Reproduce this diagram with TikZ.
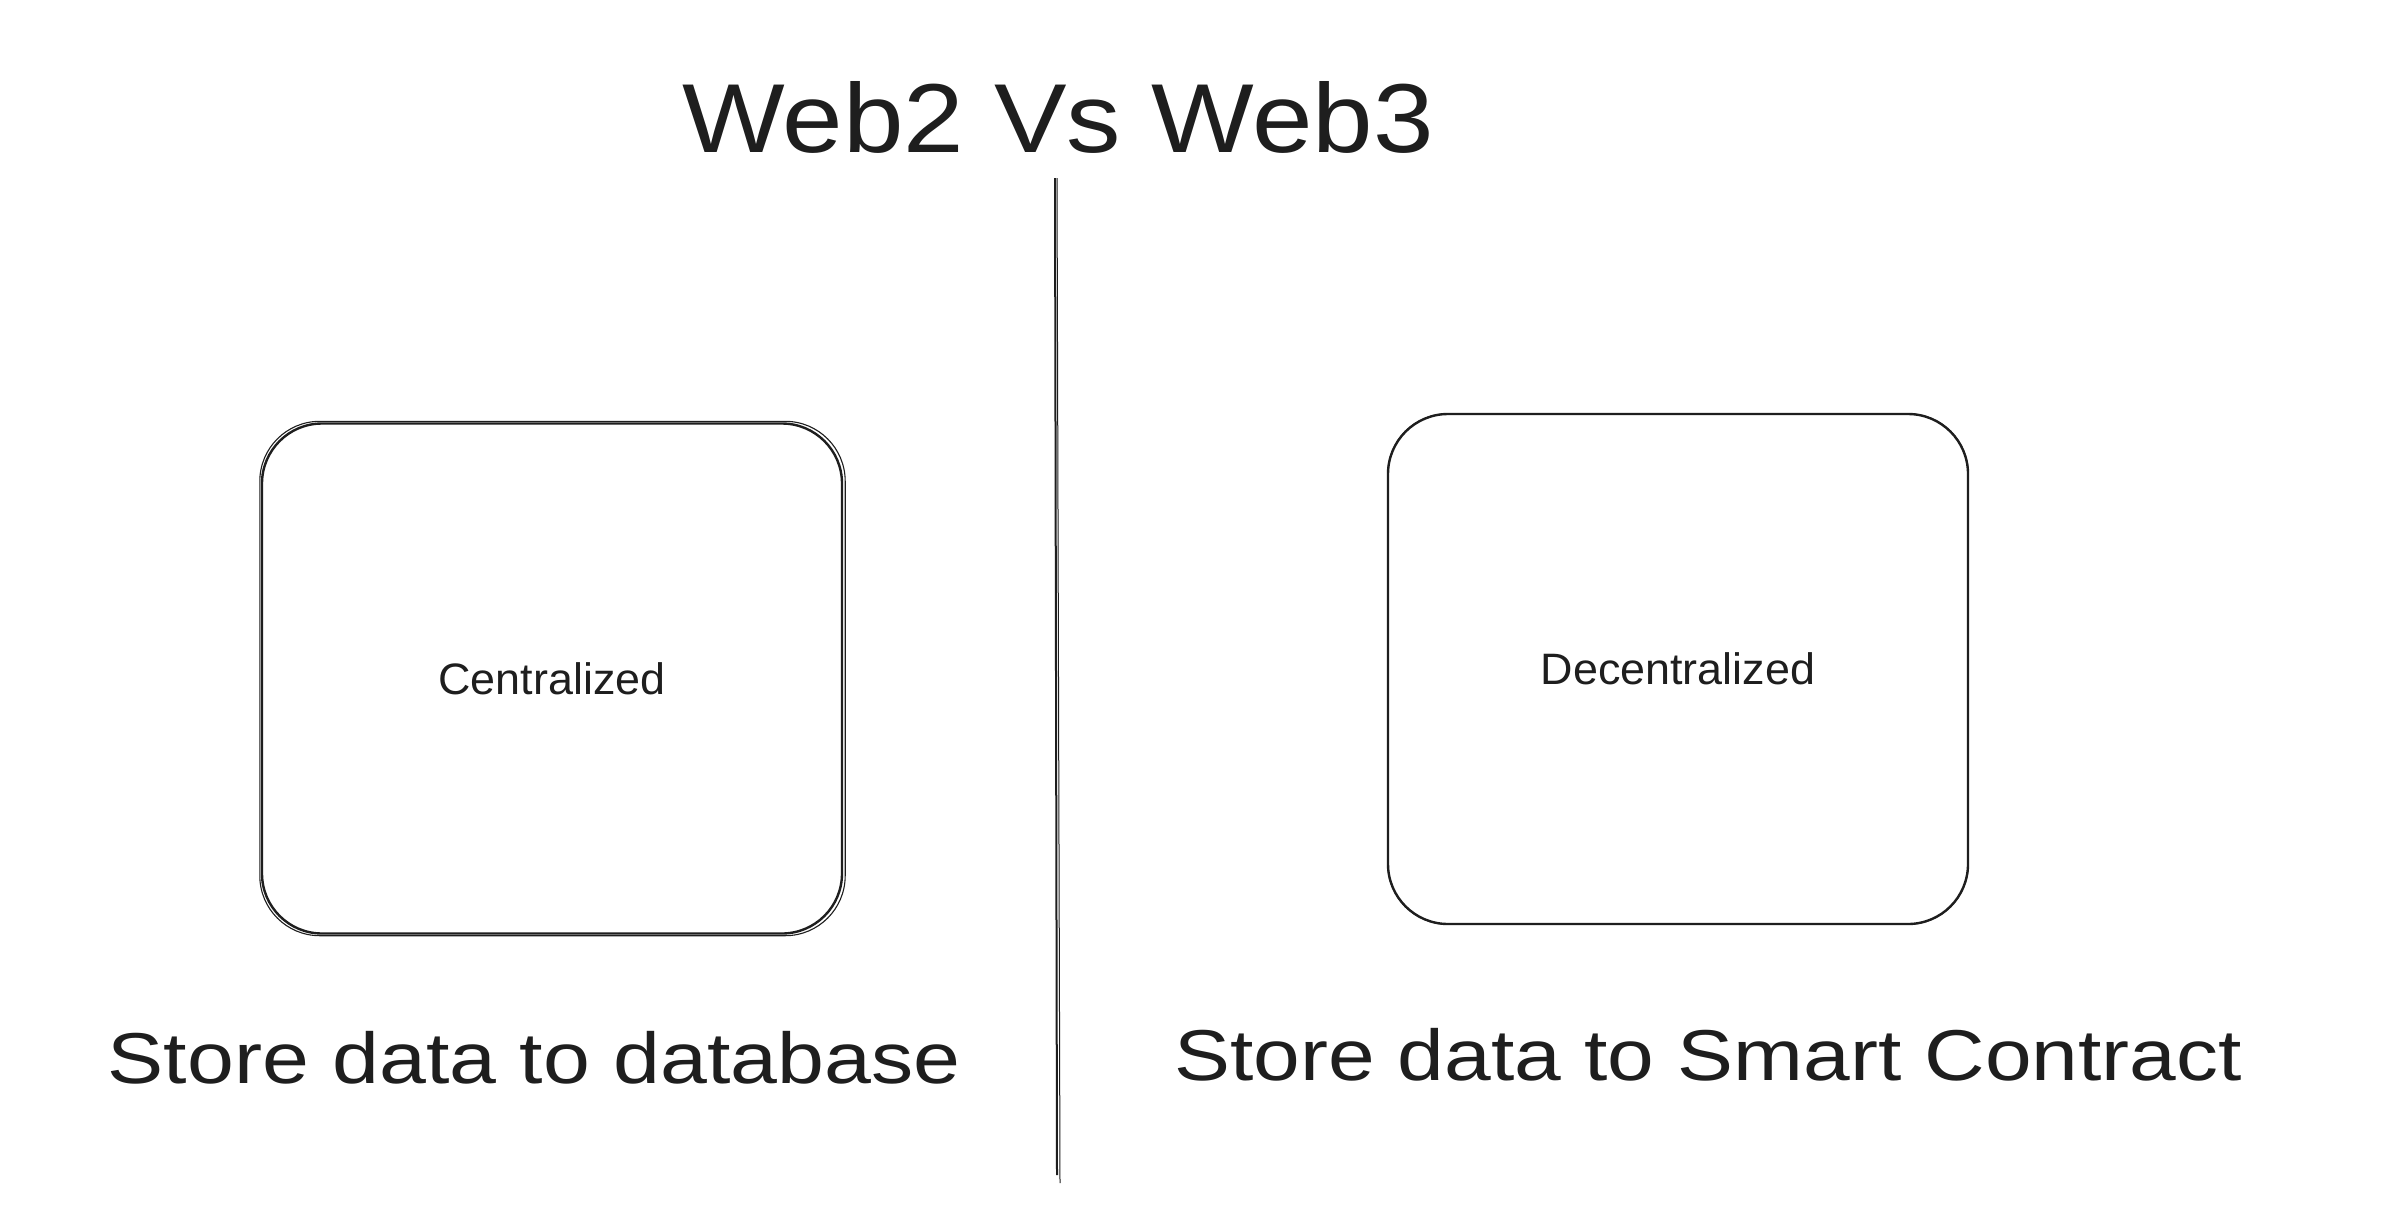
\documentclass[tikz,border=0pt]{standalone}
\usepackage{fontspec}
\setmainfont{Liberation Sans}
\definecolor{ink}{HTML}{1E1E1E}
\begin{document}
\begin{tikzpicture}[x=1pt,y=-1pt,
  sketchbox/.style={draw=ink,line width=2.4pt,rounded corners=60pt,
    minimum width=580pt,minimum height=510pt,inner sep=0pt,
    font=\fontsize{44}{44}\selectfont,text=ink},
  sketchline/.style={draw=ink,line width=1.1pt,rounded corners=60pt},
  titletext/.style={font=\fontsize{98}{98}\selectfont,text=ink,anchor=base,inner sep=0pt},
  captext/.style={font=\fontsize{72}{72}\selectfont,text=ink,anchor=base,inner sep=0pt}]
\useasboundingbox[fill=white] (0,0) rectangle (2386,1216);

% title
\node[titletext] (title) at (1058,152) {\scalebox{1.11}[1]{Web2 Vs Web3}};

% divider
\coordinate (dtop) at (1055,178);
\coordinate (dbot) at (1057,1175);
\draw[ink,line width=2pt] (dtop) -- (dbot);
\draw[ink,line width=1pt] ([xshift=2pt]dtop) -- ([xshift=3pt,yshift=-8pt]dbot);

% boxes
\node[sketchbox] (left) at (552,678.5) {\scalebox{1.02}[1]{Centralized}};
\node[sketchbox] (right) at (1678,669) {\scalebox{1.02}[1]{Decentralized}};
\draw[sketchline] ([xshift=-1pt,yshift=1pt]left.north west) rectangle ([xshift=2pt,yshift=-1pt]left.south east);
\draw[sketchline] ([xshift=1pt,yshift=-1pt]right.north west) rectangle ([xshift=-1pt,yshift=1pt]right.south east);

% captions
\node[captext] (lcap) at (534,1083) {\scalebox{1.17}[1]{Store data to database}};
\node[captext] (rcap) at (1708,1080) {\scalebox{1.165}[1]{Store data to Smart Contract}};
\end{tikzpicture}
\end{document}
